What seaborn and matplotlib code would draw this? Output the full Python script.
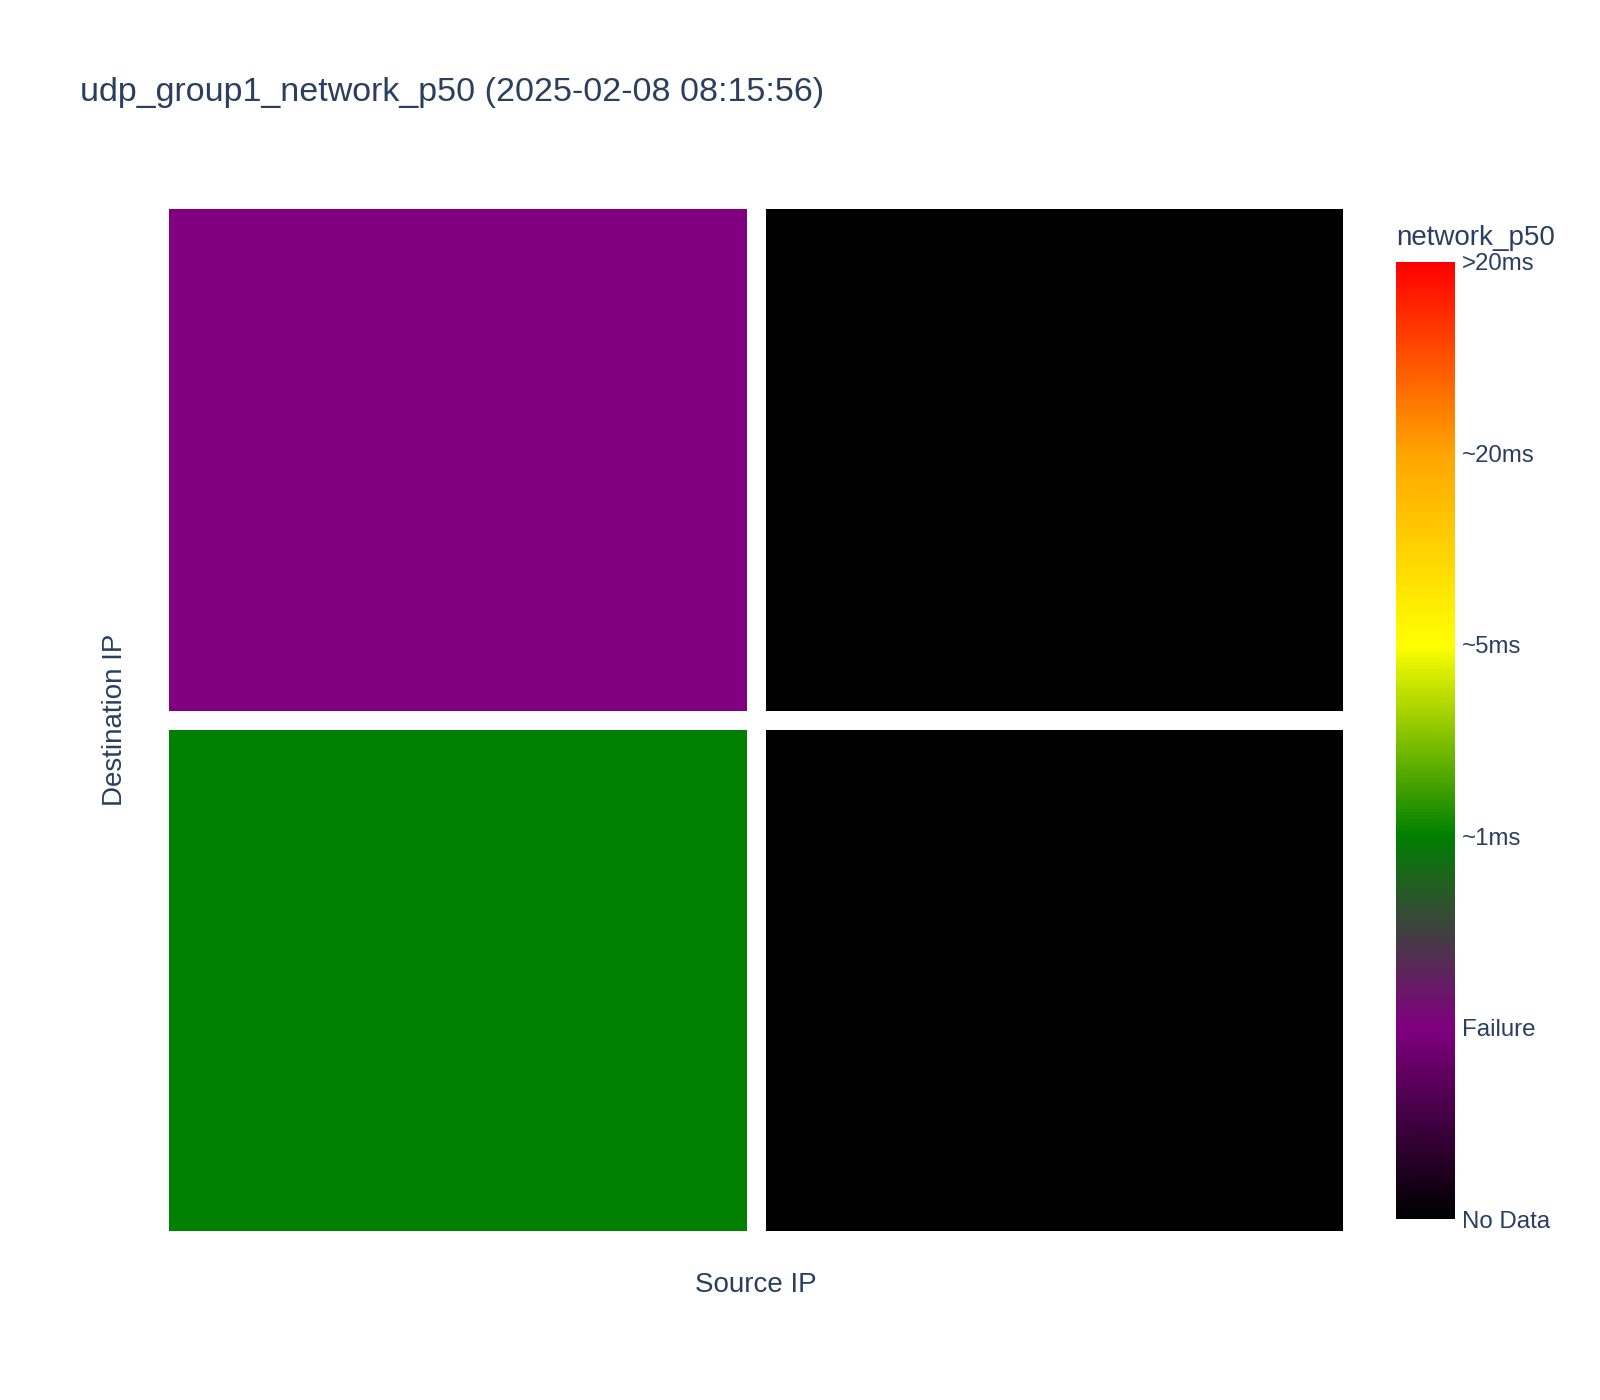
import matplotlib
matplotlib.use("Agg")
import matplotlib.pyplot as plt
from matplotlib.colors import LinearSegmentedColormap
import seaborn as sns
import pandas as pd

# data: status level per (destination, source) pair
source_ips = ["src_1", "src_2"]
dest_ips = ["dst_1", "dst_2"]
dst1_levels = [1, 0]   # Failure, No Data
dst2_levels = [2, 0]   # ~1ms, No Data

level_labels = ["No Data", "Failure", "~1ms", "~5ms", "~20ms", ">20ms"]
level_colors = ["#000000", "#800080", "#008000", "#ffff00", "#ffa500", "#ff0000"]

title = "udp_group1_network_p50 (2025-02-08 08:15:56)"
txt = "#2a3f5f"

sns.set_theme(style="white")
plt.rcParams["font.family"] = ["Liberation Sans", "DejaVu Sans"]

grid = pd.DataFrame([dst1_levels, dst2_levels], index=dest_ips, columns=source_ips)

n = len(level_colors) - 1
cmap = LinearSegmentedColormap.from_list(
    "p50", [(i / n, c) for i, c in enumerate(level_colors)])

fig = plt.figure(figsize=(16, 14), dpi=100)
W, H = 1600, 1400
ax = fig.add_axes([159 / W, 1 - 1240 / H, (1352 - 159) / W, (1240 - 199) / H])
cax = fig.add_axes([1396 / W, 1 - 1219 / H, 59 / W, (1219 - 262) / H])

sns.heatmap(grid, ax=ax, cbar_ax=cax, cmap=cmap, vmin=0, vmax=n,
            linewidths=13.5, linecolor="white",
            xticklabels=False, yticklabels=False)

ax.set_xlabel("Source IP", fontsize=20, color=txt)
ax.set_ylabel("Destination IP", fontsize=20, color=txt)
ax.xaxis.label.set_va("center")
ax.yaxis.label.set_va("center")
ax.xaxis.set_label_coords(0.5, -0.043)
ax.yaxis.set_label_coords(-0.037, 0.5)
for s in ax.spines.values():
    s.set_visible(False)

cbar = ax.collections[0].colorbar
cbar.set_ticks(range(len(level_labels)))
cbar.set_ticklabels(level_labels)
cbar.outline.set_visible(False)
cax.tick_params(length=0, pad=5, labelsize=17.3, labelcolor=txt)

fig.text(1396 / W, 1 - 238 / H, "network_p50", fontsize=20, color=txt,
         ha="left", va="center")
fig.text(80 / W, 1 - 92 / H, title, fontsize=24.5, color=txt,
         ha="left", va="center")

fig.savefig("out.png", dpi=100, facecolor="white")
